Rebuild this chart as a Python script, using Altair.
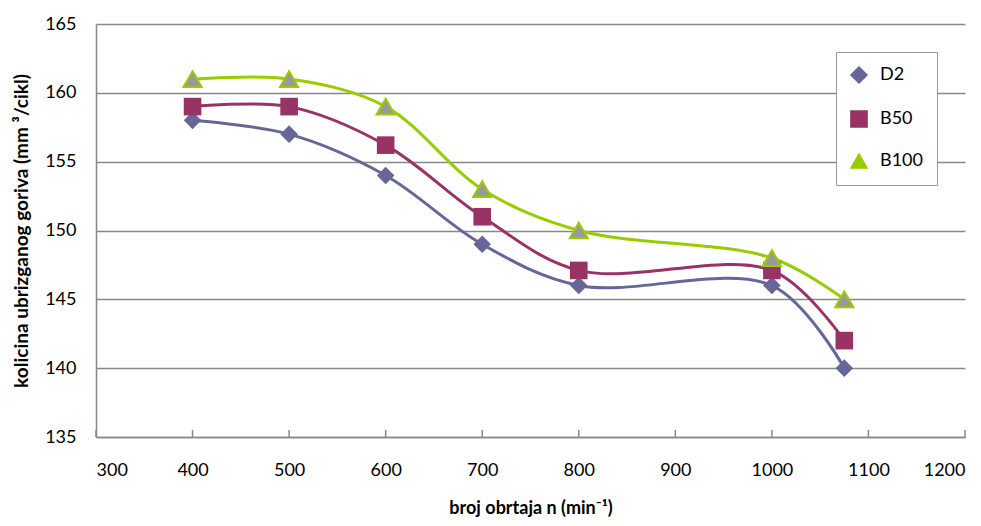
import altair as alt
import pandas as pd

rpm = [400, 500, 600, 700, 800, 1000, 1075]
d2 = [158.0, 157.0, 154.0, 149.0, 146.0, 146.0, 140.0]
b50 = [159.0, 159.0, 156.2, 151.0, 147.1, 147.1, 142.0]
b100 = [161.0, 161.0, 159.0, 153.0, 150.0, 148.0, 145.0]
series_names = ["D2", "B50", "B100"]
x_ticks = [300, 400, 500, 600, 700, 800, 900, 1000, 1100, 1200]
y_ticks = [135, 140, 145, 150, 155, 160, 165]

rows = []
for name, vals in zip(series_names, [d2, b50, b100]):
    for x, y in zip(rpm, vals):
        rows.append({"n": x, "q": y, "series": name})
df = pd.DataFrame(rows)
ticks_df = pd.DataFrame({"n": x_ticks})

W, H = 869, 413
line_colors = ["#666699", "#993366", "#99CC00"]
shapes = ["diamond", "square", "triangle-up"]
font = "Lato, sans-serif"

xs = alt.Scale(domain=[300, 1200], nice=False, zero=False)
ys = alt.Scale(domain=[135, 165], nice=False, zero=False)
cs = alt.Scale(domain=series_names, range=line_colors)
ss = alt.Scale(domain=series_names, range=shapes)

x_enc = alt.X("n:Q", scale=xs, axis=alt.Axis(
    values=x_ticks, format="d", title="broj obrtaja n (min⁻¹)", grid=False, tickSize=0,
    labelPadding=24, labelFontSize=18, titlePadding=20, titleFontSize=18,
    titleFontWeight="bold", domainColor="#888888", domainWidth=1.5,
    labelFont=font, titleFont=font, labelColor="#000", titleColor="#000"))
y_enc = alt.Y("q:Q", scale=ys, axis=alt.Axis(
    values=y_ticks, format="d", title="kolicina ubrizganog goriva (mm ³/cikl)", grid=True,
    gridColor="#888888", gridWidth=1.5, tickSize=0, labelPadding=20,
    labelFontSize=18, titlePadding=13, titleFontSize=19, titleFontWeight="bold",
    domainColor="#888888", domainWidth=1.5, labelFont=font, titleFont=font,
    labelColor="#000", titleColor="#000"))

leg = alt.Legend(title=None, orient="top-right", offset=28,
                 padding=14, fillColor="white", strokeColor="#999999",
                 labelFontSize=18, labelFont=font, labelColor="#000",
                 symbolSize=260, rowPadding=20, labelOffset=12)

series_lines = alt.Chart(df).mark_line(
    interpolate="catmull-rom", strokeWidth=3,
    point=alt.OverlayMarkDef(filled=True, size=310, opacity=1),
).encode(
    x=x_enc, y=y_enc,
    color=alt.Color("series:N", scale=cs, legend=leg),
    shape=alt.Shape("series:N", scale=ss, legend=leg),
)

b100_marks = alt.Chart(df).transform_filter(alt.datum.series == "B100").mark_point(
    shape="triangle-up", size=330, fill="#999999", fillOpacity=1, stroke="#99CC00",
    strokeWidth=2, strokeOpacity=1, opacity=1
).encode(x=alt.X("n:Q", scale=xs), y=alt.Y("q:Q", scale=ys))

tick_marks = alt.Chart(ticks_df).mark_rule(color="#888888", strokeWidth=1.5).encode(
    x=alt.X("n:Q", scale=xs), y=alt.value(H - 7), y2=alt.value(H))

chart = alt.layer(tick_marks, series_lines, b100_marks).properties(
    width=W, height=H,
    autosize=alt.AutoSizeParams(type="none"),
    padding={"left": 88, "top": 16, "right": 8, "bottom": 88},
).configure_view(stroke=None)

chart.save("out.html", embed_options={"renderer": "svg", "actions": False})
